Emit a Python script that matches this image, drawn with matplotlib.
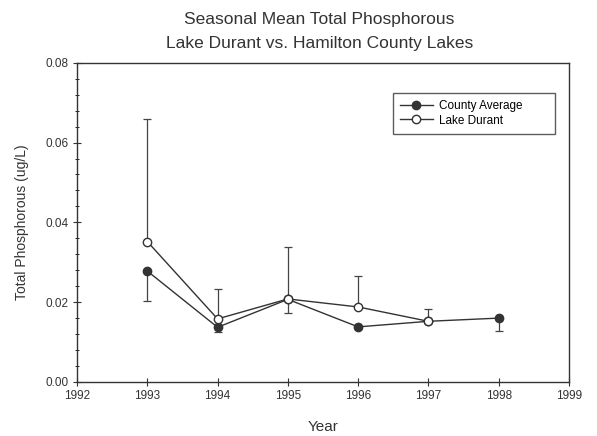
import numpy as np
import matplotlib.pyplot as plt
from matplotlib.ticker import MultipleLocator, FormatStrFormatter

plt.rcParams['font.family'] = ['Liberation Sans', 'DejaVu Sans']

# donnees
years_county = [1993, 1994, 1995, 1996, 1997, 1998]
county_avg = [0.0278, 0.0137, 0.0207, 0.0138, 0.0152, 0.0160]
county_err_low = [0.0075, 0.0012, 0.0034, 0.0, 0.0, 0.0033]

years_durant = [1993, 1994, 1995, 1996, 1997]
durant = [0.0352, 0.0158, 0.0208, 0.0188, 0.0152]
durant_err_up = [0.0306, 0.0074, 0.0131, 0.0077, 0.0032]

fig = plt.figure(figsize=(5.97, 4.36), dpi=100)
ax = fig.add_axes([0.129, 0.124, 0.824, 0.732])

# barres d'erreur
ax.errorbar(years_county, county_avg, yerr=[county_err_low, np.zeros(len(county_avg))],
            fmt='none', ecolor='#444444', elinewidth=0.9, capsize=3, capthick=0.9)
ax.errorbar(years_durant, durant, yerr=[np.zeros(len(durant)), durant_err_up],
            fmt='none', ecolor='#444444', elinewidth=0.9, capsize=3, capthick=0.9)

ax.plot(years_county, county_avg, '-o', color='#333333', lw=1.0, ms=6,
        mfc='#333333', mec='#333333', label='County Average')
ax.plot(years_durant, durant, '-o', color='#333333', lw=1.0, ms=6,
        mfc='white', mec='#333333', label='Lake Durant')

ax.set_xlim(1992, 1999)
ax.set_ylim(0, 0.08)
ax.xaxis.set_major_locator(MultipleLocator(1))
ax.yaxis.set_major_locator(MultipleLocator(0.02))
ax.yaxis.set_minor_locator(MultipleLocator(0.004))
ax.yaxis.set_major_formatter(FormatStrFormatter('%.2f'))
ax.tick_params(which='major', direction='inout', length=6, width=0.8, labelsize=8.5,
               colors='#333333', pad=3)
ax.tick_params(which='minor', direction='inout', length=3, width=0.6)
for s in ax.spines.values():
    s.set_linewidth(1.0)
    s.set_color('#333333')

ax.set_xlabel('Year', fontsize=11, color='#333333', labelpad=13)
ax.set_ylabel('Total Phosphorous (ug/L)', fontsize=10, color='#333333', labelpad=12)

leg = ax.legend(loc='upper left', bbox_to_anchor=(0.642, 0.805, 0.33, 0.1), mode='expand',
                borderaxespad=0, fontsize=8.5, frameon=True, fancybox=False,
                edgecolor='#333333', handlelength=2.8, borderpad=0.6,
                labelspacing=0.2, handletextpad=0.5)
leg.get_frame().set_linewidth(1.0)

fig.text(0.535, 0.955, 'Seasonal Mean Total Phosphorous', ha='center', va='center',
         fontsize=12.5, color='#333333')
fig.text(0.535, 0.9, 'Lake Durant vs. Hamilton County Lakes', ha='center', va='center',
         fontsize=12.5, color='#333333')

fig.savefig('out.png', dpi=100)
